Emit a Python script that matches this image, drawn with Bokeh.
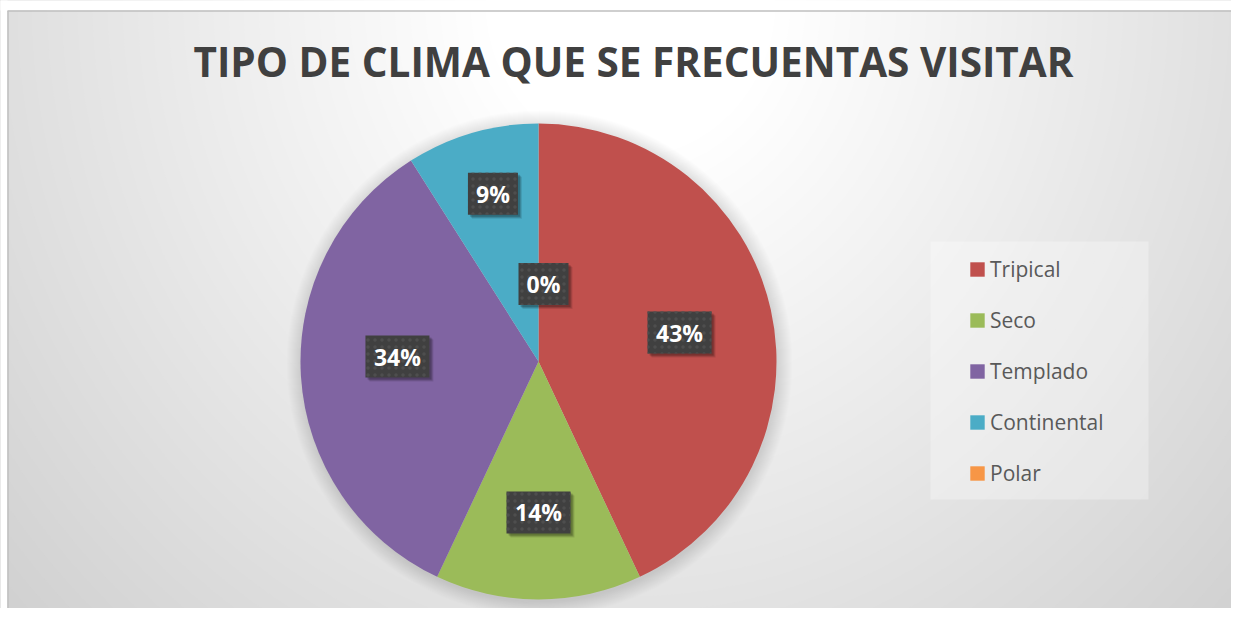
import numpy as np
from bokeh.plotting import figure
from bokeh.models import ColumnDataSource, Range1d, Legend, LegendItem
from bokeh.core.properties import value
from bokeh.embed import file_html
from bokeh.resources import INLINE

# ---------------- data ----------------
categories = ["Tripical", "Seco", "Templado", "Continental", "Polar"]
percentages = [43, 14, 34, 9, 0]
colors = ["#C0504D", "#9BBB59", "#8064A2", "#4BACC6", "#F79646"]
title_text = "TIPO DE CLIMA QUE SE FRECUENTAS VISITAR"

# ---------------- layout / style ----------------
W, H = 1231, 608
CX, CY, R = 538, -361, 238         # pie centre and radius (data units == pixels, y negated)
LABEL_R = [0.605, 0.634, 0.593, 0.73, 0.326]   # label distance (fraction of radius)
LABEL_DA = [1.0, 0.0, 5.6, 1.0, 3.7]           # "best fit" angular nudge (degrees)
FONT = "Open Sans"

p = figure(width=W, height=H, x_range=Range1d(0, W), y_range=Range1d(-H, 0),
           x_axis_type=None, y_axis_type=None, toolbar_location=None,
           output_backend="svg", min_border=0, outline_line_color=None,
           background_fill_color="#d0d0d0", border_fill_color="white")
p.grid.visible = False

# ---- background radial gradient (decoration) ----
gcx, gcy, ga, gb = 630, 0, 650, 700
d0, K = 0.2, 43.0
for n in range(60, 0, -1):
    d = d0 + n / K
    g = 255 - (n - 1)
    col = "#%02x%02x%02x" % (g, g, g)
    p.ellipse(x=[gcx], y=[-gcy], width=2 * ga * d, height=2 * gb * d,
              fill_color=col, line_color=None)

# white margins outside the chart frame, and the frame border
p.quad(left=[-10], right=[1300], top=[10], bottom=[-10], fill_color="white", line_color=None)
p.quad(left=[-10], right=[7], top=[10], bottom=[-700], fill_color="white", line_color=None)
p.line(x=[7, 1300], y=[-10.5, -10.5], line_color="#bfbfbf", line_width=1.5)
p.line(x=[7.5, 7.5], y=[-10.5, -700], line_color="#bfbfbf", line_width=1.5)

# ---- pie soft shadow ----
for k in range(1, 16):
    p.circle(x=[CX + 1], y=[CY - 2], radius=R + k, fill_color="black", fill_alpha=0.009,
             line_color=None)

# ---- pie ----
total = float(sum(percentages))
frac = np.array(percentages, dtype=float) / total
cum = np.concatenate([[0.0], np.cumsum(frac)])
start = np.pi / 2 - 2 * np.pi * cum[:-1]
end = np.pi / 2 - 2 * np.pi * cum[1:]
radius = [R if v > 0 else 0 for v in percentages]   # zero slices draw nothing
src = ColumnDataSource(dict(cat=categories, val=percentages, color=colors,
                            start=start, end=end, r=radius))
wedges = p.wedge(x=CX, y=CY, radius="r", start_angle="start", end_angle="end",
                 direction="clock", fill_color="color", line_color=None, source=src)

# ---- data labels ----
mid = 2 * np.pi * (cum[:-1] + cum[1:]) / 2 + np.radians(LABEL_DA)
lr = np.array(LABEL_R) * R
lx = CX + lr * np.sin(mid)
ly = CY + lr * np.cos(mid)
texts = ["%d%%" % v for v in percentages]
bw = [14 * len(t) + 22 for t in texts]
lab = ColumnDataSource(dict(x=lx, y=ly, t=texts, w=bw))
for off, a in [(4, 0.10), (3, 0.14), (2, 0.18)]:
    p.rect(x=lx + off, y=ly - off, width=bw, height=42, fill_color="black",
           fill_alpha=a, line_color=None)
p.rect(x="x", y="y", width="w", height=42, source=lab, fill_color="#404040",
       line_color=None, hatch_pattern="dot", hatch_color="#4e4e4e", hatch_scale=7,
       hatch_weight=1)
p.text(x="x", y="y", text="t", source=lab, text_align="center",
       text_baseline="middle", text_font=value(FONT), text_font_style="bold",
       text_font_size="23px", text_color="white")

# ---- title ----
p.text(x=[633], y=[-61], text=[title_text], text_align="center", text_baseline="middle",
       text_font=value(FONT), text_font_style="bold", text_font_size="40.5px",
       text_color="#404040")

# ---- legend ----
p.quad(left=[930], right=[1148], top=[-241], bottom=[-499], fill_color="white",
       fill_alpha=0.3, line_color=None)
items = [LegendItem(label=c, renderers=[wedges], index=i) for i, c in enumerate(categories)]
legend = Legend(items=items, location=(968, 608 - 488), padding=0, margin=0, spacing=21,
                glyph_width=18, glyph_height=18, label_height=30, label_standoff=4,
                label_text_font=FONT, label_text_font_size="21px",
                label_text_color="#595959", background_fill_alpha=0,
                border_line_alpha=0)
p.add_layout(legend)

open("out.html", "w").write(file_html(p, INLINE))
